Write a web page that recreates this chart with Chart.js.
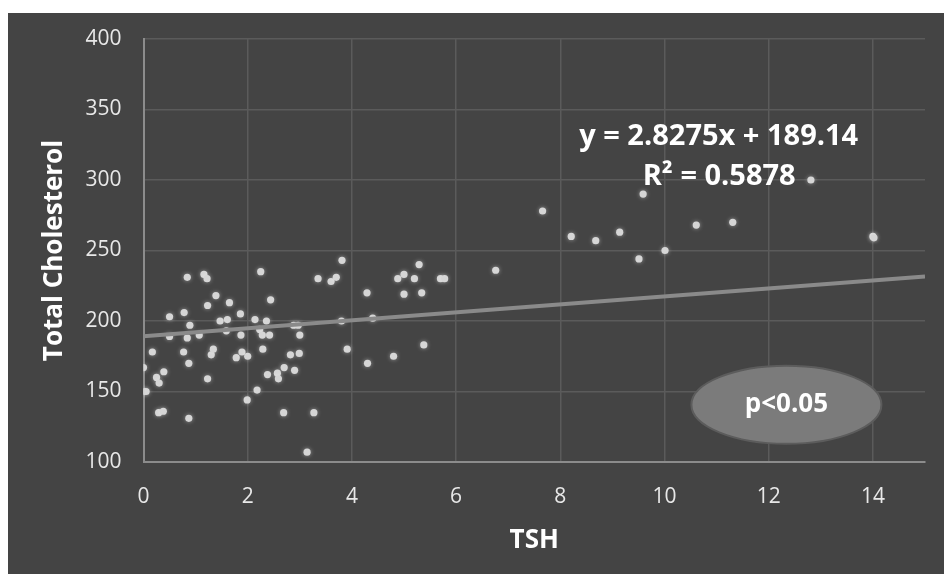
<!DOCTYPE html>
<html>
<head>
<meta charset="utf-8">
<script src="https://cdn.jsdelivr.net/npm/chart.js@4.4.1/dist/chart.umd.min.js"></script>
<style>
  body { margin: 0; background: #ffffff; }
  #wrap { position: absolute; left: 8px; top: 13px; width: 936px; height: 561px; background: #444444; }
</style>
</head>
<body>
<div id="wrap"><canvas id="chart"></canvas></div>
<script>
// TSH vs total cholesterol
const tsh = [
  0.00, 0.00, 0.05, 0.17, 0.25, 0.30, 0.29, 0.38, 0.39, 0.50,
  0.50, 0.77, 0.78, 0.84, 0.87, 0.84, 0.89, 0.87, 1.07, 1.16,
  1.22, 1.23, 1.23, 1.30, 1.34, 1.39, 1.47, 1.61, 1.59, 1.65,
  1.78, 1.86, 1.87, 1.89, 1.99, 2.00, 2.14, 2.18, 2.23, 2.25,
  2.28, 2.29, 2.36, 2.38, 2.42, 2.44, 2.57, 2.59, 2.69, 2.70,
  2.82, 2.90, 2.88, 2.97, 2.99, 3.00, 3.14, 3.27, 3.35, 3.60,
  3.70, 3.81, 3.80, 3.91, 4.29, 4.30, 4.40, 4.80, 4.88, 5.00,
  5.00, 5.20, 5.29, 5.34, 5.38, 5.70, 5.78, 6.76, 7.66, 8.21,
  8.68, 9.14, 9.51, 9.59, 10.01, 10.61, 11.31, 12.81, 14.00, 14.02
];
const cholesterol = [
  167, 150, 150, 178, 160, 156, 135, 136, 164, 203,
  189, 178, 206, 188, 131, 231, 197, 170, 190, 233,
  230, 211, 159, 176, 180, 218, 200, 201, 193, 213,
  174, 205, 190, 178, 144, 175, 201, 151, 194, 235,
  190, 180, 200, 162, 190, 215, 163, 159, 135, 167,
  176, 165, 197, 197, 177, 190, 107, 135, 230, 228,
  231, 243, 200, 180, 220, 170, 202, 175, 230, 233,
  219, 230, 240, 220, 183, 230, 230, 236, 278, 260,
  257, 263, 244, 290, 250, 268, 270, 300, 260, 259
];

// linear trendline (Excel)
const trendX = [0, 15];
const trendY = [189.14, 231.55];
const equationText = 'y = 2.8275x + 189.14';
const r2Text = 'R\u00B2 = 0.5878';
const pText = 'p<0.05';

const xTicks = [0, 2, 4, 6, 8, 10, 12, 14];
const yTicks = [100, 150, 200, 250, 300, 350, 400];

const points = tsh.map((x, i) => ({ x: x, y: cholesterol[i] }));
const trend = trendX.map((x, i) => ({ x: x, y: trendY[i] }));

const FONT = '"Open Sans", "Noto Sans", sans-serif';

// soft glow on the dots
const glowPlugin = {
    id: 'glow',
    beforeDatasetDraw(chart, args) {
        if (args.index !== 1) return;
        chart.ctx.save();
        chart.ctx.shadowColor = 'rgba(255,255,255,0.45)';
        chart.ctx.shadowBlur = 4;
    },
    afterDatasetDraw(chart, args) {
        if (args.index !== 1) return;
        chart.ctx.restore();
    }
};

// equation, R2 and the p-value bubble
const notesPlugin = {
    id: 'notes',
    afterDraw(chart) {
        const ctx = chart.ctx;
        const xs = chart.scales.x, ys = chart.scales.y;
        ctx.save();
        ctx.fillStyle = '#ffffff';
        ctx.textAlign = 'center';
        ctx.textBaseline = 'middle';
        ctx.font = 'bold 29px ' + FONT;
        ctx.fillText(equationText, xs.getPixelForValue(11.04), ys.getPixelForValue(330.5));
        ctx.fillText(r2Text, xs.getPixelForValue(11.05), ys.getPixelForValue(302));

        const cx = xs.getPixelForValue(12.34), cy = ys.getPixelForValue(140.6);
        ctx.beginPath();
        ctx.ellipse(cx, cy, 95, 39, 0, 0, Math.PI * 2);
        ctx.fillStyle = '#7b7b7b';
        ctx.fill();
        ctx.lineWidth = 2;
        ctx.strokeStyle = '#5c5c5c';
        ctx.stroke();
        ctx.fillStyle = '#ffffff';
        ctx.font = 'bold 26px ' + FONT;
        ctx.fillText(pText, cx, cy);
        ctx.restore();
    }
};

const ctx = document.getElementById('chart').getContext('2d');
new Chart(ctx, {
    type: 'scatter',
    data: {
        datasets: [
            {
                type: 'line',
                data: trend,
                borderColor: '#8a8a8a',
                borderWidth: 4,
                pointRadius: 0,
                fill: false
            },
            {
                data: points,
                backgroundColor: '#d6d6d6',
                borderWidth: 0,
                pointRadius: 3.6,
                pointHoverRadius: 3.6
            }
        ]
    },
    options: {
        responsive: true,
        maintainAspectRatio: false,
        animation: false,
        events: [],
        layout: { padding: { top: 26, right: 19, left: 0, bottom: 0 } },
        plugins: {
            legend: { display: false },
            tooltip: { enabled: false }
        },
        scales: {
            x: {
                type: 'linear',
                min: 0,
                max: 15,
                afterBuildTicks: (scale) => { scale.ticks = xTicks.map(v => ({ value: v })); },
                afterFit: (scale) => { scale.height = 112; scale.paddingRight = 12; },
                grid: { color: '#5b5b5b', lineWidth: 1.5, drawTicks: false },
                border: { color: '#8c8c8c', width: 2 },
                ticks: {
                    color: '#e8e8e8',
                    padding: 22,
                    font: { family: FONT, size: 21 }
                },
                title: {
                    display: true,
                    text: 'TSH',
                    color: '#ffffff',
                    padding: { top: 0, bottom: 18 },
                    font: { family: FONT, size: 26, weight: 'bold' }
                }
            },
            y: {
                min: 100,
                max: 400,
                afterBuildTicks: (scale) => { scale.ticks = yTicks.map(v => ({ value: v })); },
                afterFit: (scale) => { scale.width = 135.5; scale.paddingTop = 12; scale.paddingBottom = 12; },
                grid: { color: '#5b5b5b', lineWidth: 1.5, drawTicks: false },
                border: { color: '#8c8c8c', width: 2 },
                ticks: {
                    color: '#e8e8e8',
                    padding: 22,
                    font: { family: FONT, size: 21 }
                },
                title: {
                    display: true,
                    text: 'Total Cholesterol',
                    color: '#ffffff',
                    padding: { top: 31, bottom: 0 },
                    font: { family: FONT, size: 26, weight: 'bold' }
                }
            }
        }
    },
    plugins: [glowPlugin, notesPlugin]
});
</script>
</body>
</html>
